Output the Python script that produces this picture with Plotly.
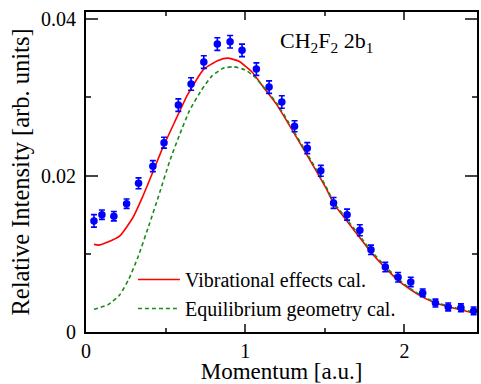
import plotly.graph_objects as go

# Experimental data
exp_x = [0.05, 0.10, 0.175, 0.255, 0.33, 0.42, 0.49, 0.58, 0.66, 0.74, 0.825, 0.905,
         0.98, 1.07, 1.15, 1.23, 1.31, 1.39, 1.475, 1.555, 1.64, 1.72, 1.79, 1.88,
         1.96, 2.04, 2.115, 2.195, 2.275, 2.355, 2.435]
exp_y = [0.0142, 0.0150, 0.0148, 0.0164, 0.0190, 0.0212, 0.0242, 0.0290, 0.0317, 0.0345,
         0.0368, 0.0371, 0.0360, 0.0336, 0.0313, 0.0294, 0.0263, 0.0235, 0.0206, 0.0165,
         0.0150, 0.0130, 0.0105, 0.0083, 0.0070, 0.0064, 0.0050, 0.0037, 0.0032, 0.0031,
         0.0027]
exp_err = [0.0008, 0.0006, 0.0006, 0.0006, 0.0007, 0.0007, 0.0007, 0.0008, 0.0008, 0.0008,
           0.0008, 0.0008, 0.0008, 0.0008, 0.0008, 0.0008, 0.0007, 0.0007, 0.0007, 0.0007,
           0.0007, 0.0007, 0.0006, 0.0006, 0.0006, 0.0006, 0.0005, 0.0005, 0.0005, 0.0005,
           0.0005]

# Vibrational effects calculation
vib_x = [0.05, 0.08, 0.125, 0.2125, 0.294, 0.356, 0.419, 0.481, 0.556, 0.6375, 0.74,
         0.83, 0.89, 0.96, 1.04, 1.125, 1.2, 1.275, 1.38, 1.51, 1.556, 1.65, 1.73, 1.79,
         1.88, 1.96, 2.04, 2.13, 2.21, 2.32, 2.44]
vib_y = [0.0112, 0.0111, 0.0114, 0.0123, 0.0146, 0.0173, 0.0204, 0.0235, 0.0268, 0.0303,
         0.0336, 0.0347, 0.0350, 0.0346, 0.0333, 0.0310, 0.0290, 0.0265, 0.0229, 0.0183,
         0.0164, 0.0139, 0.0118, 0.0102, 0.0082, 0.0066, 0.0054, 0.0043, 0.0036, 0.0030,
         0.0024]

# Equilibrium geometry calculation
eq_x = [0.05, 0.14, 0.21, 0.27, 0.325, 0.4, 0.4625, 0.525, 0.5875, 0.65, 0.725, 0.79,
        0.86, 0.925, 1.0, 1.06, 1.125, 1.2, 1.275, 1.38, 1.51, 1.556, 1.65, 1.73, 1.79,
        1.88, 1.96, 2.04, 2.13, 2.21, 2.32, 2.44]
eq_y = [0.0029, 0.0035, 0.0047, 0.0068, 0.0095, 0.0139, 0.0178, 0.0218, 0.0252, 0.0283,
        0.0309, 0.0327, 0.0337, 0.0339, 0.0335, 0.0326, 0.0311, 0.0292, 0.0267, 0.0231,
        0.0185, 0.0166, 0.0141, 0.0120, 0.0104, 0.0084, 0.0068, 0.0055, 0.0044, 0.0037,
        0.0031, 0.0025]

x_ticks = [0, 1, 2]
y_ticks = [0, 0.02, 0.04]
y_ticklabels = ["0", "0.02", "0.04"]

FONT = "Liberation Serif, Times New Roman, serif"

fig = go.Figure()
fig.add_trace(go.Scatter(
    x=vib_x, y=vib_y, mode="lines", name="Vibrational effects cal.",
    line=dict(color="#ff0000", width=1.6, shape="spline", smoothing=0.5),
))
fig.add_trace(go.Scatter(
    x=eq_x, y=eq_y, mode="lines", name="Equilibrium geometry cal.",
    line=dict(color="#1a8a1a", width=1.6, dash="4px,3px", shape="spline", smoothing=0.5),
))
fig.add_trace(go.Scatter(
    x=exp_x, y=exp_y, mode="markers", showlegend=False,
    marker=dict(color="#0000ff", size=7.5),
    error_y=dict(type="data", array=exp_err, color="#0000ff", thickness=1.6, width=3),
))

fig.update_layout(
    width=481, height=384,
    margin=dict(l=86, r=2, t=12, b=52),
    paper_bgcolor="white", plot_bgcolor="white",
    font=dict(family=FONT, color="black", size=20),
    showlegend=True,
    legend=dict(
        x=0.12, y=0.225, xanchor="left", yanchor="top",
        bgcolor="rgba(0,0,0,0)", font=dict(family=FONT, size=20),
        itemwidth=42, tracegroupgap=0,
    ),
    annotations=[dict(
        x=0.49, y=0.905, xref="paper", yref="paper", xanchor="left", yanchor="middle",
        text="CH<sub>2</sub>F<sub>2</sub> 2b<sub>1</sub>", showarrow=False,
        font=dict(family=FONT, size=22, color="black"),
    )],
)
fig.update_xaxes(
    range=[0, 2.456], tickvals=x_ticks, ticks="inside", ticklen=8, tickwidth=1.5,
    showline=True, linecolor="black", linewidth=2, mirror="ticks",
    showgrid=False, zeroline=False,
    tickfont=dict(family=FONT, size=20), ticklabelstandoff=0,
    minor=dict(dtick=0.5, ticks="inside", ticklen=4, tickwidth=1.5, showgrid=False),
    title=dict(text="Momentum [a.u.]", font=dict(family=FONT, size=23), standoff=4),
)
fig.update_yaxes(
    range=[0, 0.0409], tickvals=y_ticks, ticktext=y_ticklabels, ticks="inside",
    ticklen=12, tickwidth=1.5,
    showline=True, linecolor="black", linewidth=2, mirror="ticks",
    showgrid=False, zeroline=False,
    tickfont=dict(family=FONT, size=20), ticklabelstandoff=4,
    minor=dict(dtick=0.01, ticks="inside", ticklen=5, tickwidth=1.5, showgrid=False),
    title=dict(text="Relative Intensity [arb. units]", font=dict(family=FONT, size=24.5), standoff=4),
)

fig.write_html("out.html")
